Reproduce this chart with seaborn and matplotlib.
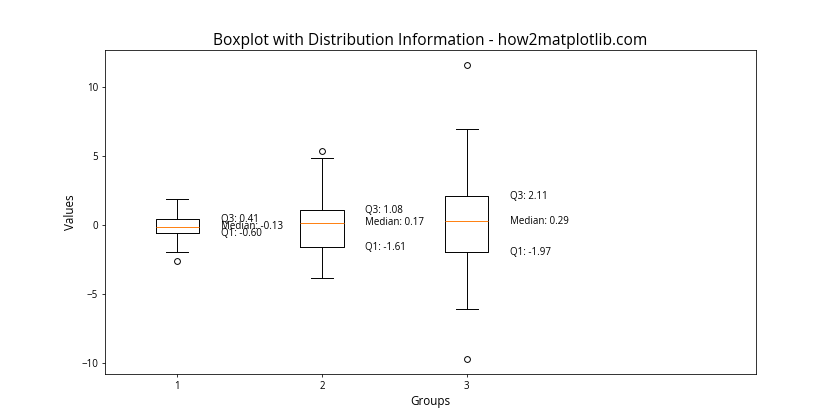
import matplotlib
matplotlib.use("Agg")
import matplotlib.pyplot as plt
import seaborn as sns
import numpy as np
import pandas as pd

plt.rcParams['font.family'] = ['Open Sans', 'DejaVu Sans']

# values (whisker ends, quartiles, medians, outliers)
group_labels = ["1", "2", "3"]
group1 = [-2.61, -1.96, -0.60, -0.40, -0.13, 0.20, 0.41, 1.86, 1.86]
group2 = [-3.84, -3.84, -1.61, -1.00, 0.17, 0.60, 1.08, 4.90, 5.39]
group3 = [-9.73, -6.09, -1.97, -1.00, 0.29, 1.00, 2.11, 6.93, 11.59]
groups = [group1, group2, group3]

df = pd.DataFrame({
    "group": np.repeat(group_labels, [len(g) for g in groups]),
    "value": np.concatenate(groups),
})

fig, ax = plt.subplots(figsize=(12, 6), dpi=70)
sns.boxplot(data=df, x="group", y="value", ax=ax, width=0.3, fill=False,
            color="black", linecolor="black", linewidth=1,
            medianprops={"color": "#ff7f0e", "linewidth": 1},
            flierprops={"marker": "o", "markerfacecolor": "none",
                        "markeredgecolor": "black", "markersize": 6})

for i, g in enumerate(groups):
    q1, med, q3 = np.percentile(g, [25, 50, 75])
    ax.text(i + 0.3, q3, f"Q3: {q3:.2f}", va="center", ha="left", fontsize=10)
    ax.text(i + 0.3, med, f"Median: {med:.2f}", va="center", ha="left", fontsize=10)
    ax.text(i + 0.3, q1, f"Q1: {q1:.2f}", va="center", ha="left", fontsize=10)

ax.set_xlim(-0.5, 4.0)
ax.set_ylim(-10.77, 12.66)
ax.set_yticks([-10, -5, 0, 5, 10])
ax.set_title("Boxplot with Distribution Information - how2matplotlib.com", fontsize=16)
ax.set_xlabel("Groups", fontsize=12)
ax.set_ylabel("Values", fontsize=12)

plt.savefig("out.png")
